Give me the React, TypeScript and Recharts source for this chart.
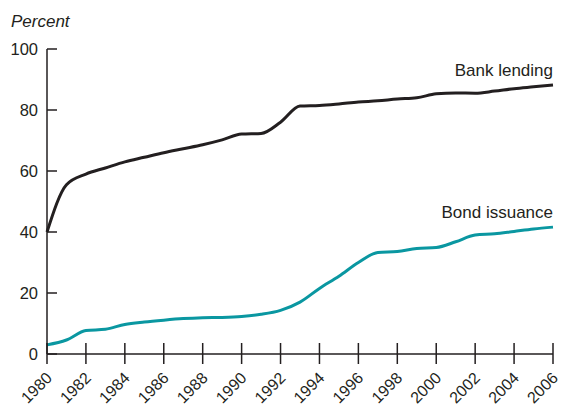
import React from "react";
import { LineChart, Line, XAxis, YAxis } from "recharts";

const years = [1980, 1981, 1982, 1983, 1984, 1985, 1986, 1987, 1988, 1989, 1990, 1991, 1992, 1993, 1994, 1995, 1996, 1997, 1998, 1999, 2000, 2001, 2002, 2003, 2004, 2005, 2006];
const bankLending = [40, 55.5, 59, 61, 63, 64.5, 66, 67.3, 68.6, 70.2, 72.1, 72.3, 76, 81.3, 81.5, 82, 82.6, 83, 83.6, 84, 85.3, 85.6, 85.5, 86.2, 87, 87.6, 88.2];
const bondIssuance = [3, 4.6, 7.7, 8.1, 9.7, 10.5, 11.1, 11.6, 11.9, 12, 12.3, 13, 14.3, 17, 21.5, 25.5, 30, 33.3, 33.6, 34.6, 34.9, 36.8, 39, 39.4, 40.2, 41, 41.6];
const xTicks = [1980, 1982, 1984, 1986, 1988, 1990, 1992, 1994, 1996, 1998, 2000, 2002, 2004, 2006];
const yTicks = [0, 20, 40, 60, 80, 100];
const seriesNames = { bank: "Bank lending", bond: "Bond issuance" };
const unitLabel = "Percent";

const INK = "#231f20";
const TEAL = "#0a97a1";
const FONT = "'Liberation Sans', Arial, Helvetica, sans-serif";

const data = years.map((year, i) => ({ year, bank: bankLending[i], bond: bondIssuance[i] }));

const XTick = (props: any) => {
  const { x, y, payload } = props;
  const tx = x + 6;
  const ty = y + 25;
  return (
    <g>
      <line x1={x} x2={x} y1={y - 11} y2={y + 10} stroke={INK} strokeWidth={1.5} />
      <text
        x={tx}
        y={ty}
        transform={`rotate(-45 ${tx} ${ty})`}
        textAnchor="end"
        fontFamily={FONT}
        fontSize={16}
        fill={INK}
      >
        {payload.value}
      </text>
    </g>
  );
};

const YTick = (props: any) => {
  const { x, y, payload } = props;
  return (
    <g>
      <line x1={x} x2={x + 10} y1={y} y2={y} stroke={INK} strokeWidth={1.5} />
      <text x={x - 9} y={y} dy="0.36em" textAnchor="end" fontFamily={FONT} fontSize={16.5} fill={INK}>
        {payload.value}
      </text>
    </g>
  );
};

const makeEndLabel = (text: string) => (props: any) => {
  const { x, y, index } = props;
  if (index !== years.length - 1) return <g />;
  return (
    <text x={x} y={y - 9} textAnchor="end" fontFamily={FONT} fontSize={17} fill={INK}>
      {text}
    </text>
  );
};

export default function App() {
  return (
    <div style={{ position: "absolute", left: 8, top: 8, width: 553, height: 398 }}>
      <div
        style={{
          position: "absolute",
          left: 3,
          top: 5,
          fontFamily: FONT,
          fontStyle: "italic",
          fontSize: 17,
          lineHeight: "17px",
          color: INK,
        }}
      >
        {unitLabel}
      </div>
      <LineChart
        width={553}
        height={398}
        data={data}
        margin={{ top: 41, right: 8, bottom: 0, left: 0 }}
        style={{ overflow: "visible" }}
      >
        <XAxis
          dataKey="year"
          type="number"
          domain={[1980, 2006]}
          ticks={xTicks}
          interval={0}
          tickSize={0}
          tickMargin={0}
          tickLine={false}
          axisLine={{ stroke: INK, strokeWidth: 1.5 }}
          tick={<XTick />}
          height={52}
        />
        <YAxis
          type="number"
          domain={[0, 100]}
          ticks={yTicks}
          interval={0}
          tickSize={0}
          tickMargin={0}
          tickLine={false}
          axisLine={{ stroke: INK, strokeWidth: 1.5 }}
          tick={<YTick />}
          width={39}
        />
        <Line
          type="monotone"
          dataKey="bank"
          stroke={INK}
          strokeWidth={3}
          dot={false}
          isAnimationActive={false}
          label={makeEndLabel(seriesNames.bank)}
        />
        <Line
          type="monotone"
          dataKey="bond"
          stroke={TEAL}
          strokeWidth={3}
          dot={false}
          isAnimationActive={false}
          label={makeEndLabel(seriesNames.bond)}
        />
      </LineChart>
    </div>
  );
}
